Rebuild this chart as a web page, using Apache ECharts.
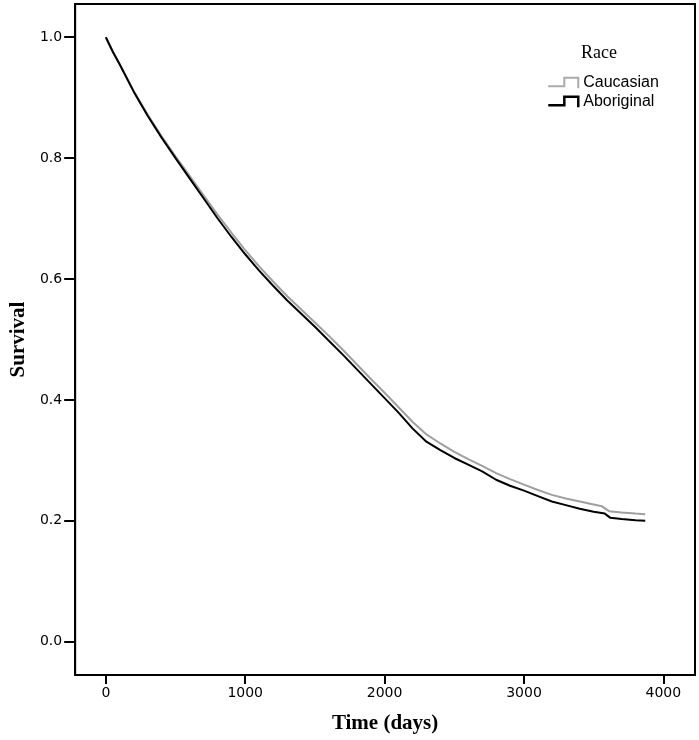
<!DOCTYPE html>
<html>
<head>
<meta charset="utf-8">
<script src="https://cdn.jsdelivr.net/npm/echarts@6/dist/echarts.min.js"></script>
<style>html,body{margin:0;padding:0;background:#fff}#c{width:699px;height:740px}</style>
</head>
<body>
<div id="c"></div>
<script>
// Kaplan-Meier survival estimates (time in days, survival proportion)
const caucasianTime = [0, 50, 100, 200, 300, 400, 500, 600, 700, 800, 900, 1000, 1100, 1200, 1300, 1400, 1500, 1600, 1700, 1800, 1900, 2000, 2100, 2200, 2300, 2400, 2500, 2600, 2700, 2800, 2900, 3000, 3100, 3200, 3300, 3400, 3500, 3560, 3610, 3700, 3800, 3870];
const caucasianSurv = [1.000, 0.976, 0.955, 0.911, 0.872, 0.836, 0.803, 0.771, 0.739, 0.707, 0.677, 0.648, 0.621, 0.596, 0.572, 0.550, 0.528, 0.506, 0.483, 0.459, 0.435, 0.412, 0.388, 0.364, 0.343, 0.328, 0.314, 0.302, 0.291, 0.279, 0.269, 0.260, 0.251, 0.243, 0.237, 0.232, 0.227, 0.224, 0.216, 0.214, 0.212, 0.211];
const aboriginalTime = [0, 50, 100, 200, 300, 400, 500, 600, 700, 800, 900, 1000, 1100, 1200, 1300, 1400, 1500, 1600, 1700, 1800, 1900, 2000, 2100, 2200, 2300, 2400, 2500, 2600, 2700, 2800, 2900, 3000, 3100, 3200, 3300, 3400, 3500, 3580, 3620, 3700, 3800, 3870];
const aboriginalSurv = [1.000, 0.976, 0.955, 0.910, 0.870, 0.834, 0.800, 0.767, 0.734, 0.701, 0.670, 0.641, 0.614, 0.589, 0.565, 0.543, 0.521, 0.498, 0.475, 0.451, 0.427, 0.403, 0.379, 0.353, 0.331, 0.317, 0.304, 0.293, 0.282, 0.268, 0.258, 0.250, 0.241, 0.232, 0.226, 0.220, 0.215, 0.212, 0.205, 0.203, 0.201, 0.200];
const xTicks = [0, 1000, 2000, 3000, 4000];
const yTicks = [0.0, 0.2, 0.4, 0.6, 0.8, 1.0];
const seriesNames = ['Caucasian', 'Aboriginal'];
const legendTitle = 'Race';

const zip = (a, b) => a.map((v, i) => [v, b[i]]);
const stepIcon = 'path://M0,9 L15,9 L15,1 L28,1 L28,11';

const option = {
  animation: false,
  backgroundColor: '#fff',
  title: {
    text: legendTitle, left: 581, top: 44, padding: 0,
    textStyle: {fontFamily: 'Liberation Serif', fontSize: 18, fontWeight: 'normal', color: '#000'}
  },
  legend: {
    orient: 'vertical', left: 547, top: 75, itemGap: 3, padding: 0,
    itemWidth: 30, itemHeight: 11,
    textStyle: {fontFamily: 'Liberation Sans', fontSize: 16, color: '#000'},
    data: [
      {name: seriesNames[0], icon: stepIcon, itemStyle: {color: 'rgba(0,0,0,0)', borderColor: '#aaaaaa', borderWidth: 2}},
      {name: seriesNames[1], icon: stepIcon, itemStyle: {color: 'rgba(0,0,0,0)', borderColor: '#000', borderWidth: 2.5}}
    ]
  },
  grid: {left: 60, top: 4, right: 4, bottom: 65, show: true, borderColor: '#000', borderWidth: 2,
    containLabel: false},
  xAxis: {
    type: 'value', min: -220, max: 4227,
    name: 'Time (days)', nameLocation: 'middle', nameGap: 38,
    nameTextStyle: {fontFamily: 'Liberation Serif', fontSize: 21, fontWeight: 'bold', color: '#000'},
    axisLine: {show: true, onZero: false, lineStyle: {color: '#000', width: 2}},
    axisTick: {show: true, inside: false, length: 9, lineStyle: {color: '#000', width: 2}, customValues: xTicks},
    axisLabel: {fontFamily: 'DejaVu Sans', fontSize: 14, color: '#000', margin: 11, customValues: xTicks,
      formatter: v => String(Math.round(v))},
    splitLine: {show: false}
  },
  yAxis: {
    type: 'value', min: -0.055, max: 1.055,
    name: 'Survival', nameLocation: 'middle', nameGap: 38, nameRotate: 90,
    nameTextStyle: {fontFamily: 'Liberation Serif', fontSize: 21, fontWeight: 'bold', color: '#000'},
    axisLine: {show: true, onZero: false, lineStyle: {color: '#000', width: 2}},
    axisTick: {show: true, inside: false, length: 11, lineStyle: {color: '#000', width: 2}, customValues: yTicks},
    axisLabel: {fontFamily: 'DejaVu Sans', fontSize: 14, color: '#000', margin: 13, customValues: yTicks,
      formatter: v => v.toFixed(1)},
    splitLine: {show: false}
  },
  series: [
    {name: seriesNames[0], type: 'line', data: zip(caucasianTime, caucasianSurv), showSymbol: false, symbol: 'none',
     lineStyle: {color: '#a0a0a0', width: 2}, itemStyle: {color: '#a0a0a0'}, z: 2},
    {name: seriesNames[1], type: 'line', data: zip(aboriginalTime, aboriginalSurv), showSymbol: false, symbol: 'none',
     lineStyle: {color: '#000', width: 2}, itemStyle: {color: '#000'}, z: 3}
  ]
};

const chart = echarts.init(document.getElementById('c'), null, {renderer: 'canvas'});
chart.setOption(option);
</script>
</body>
</html>
